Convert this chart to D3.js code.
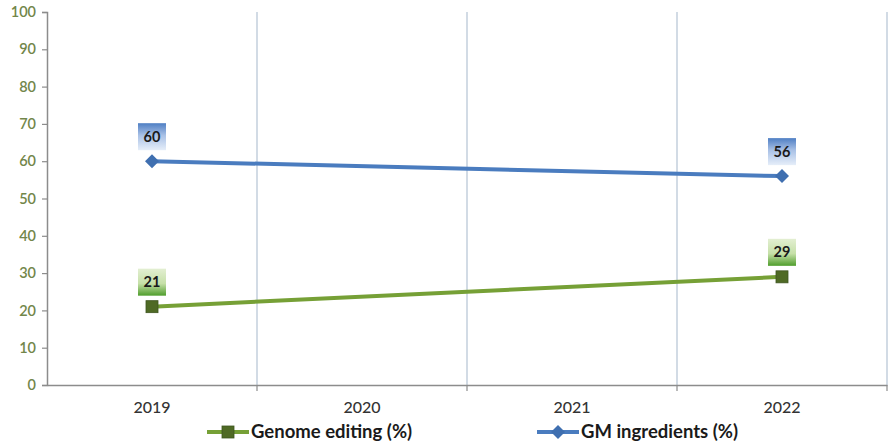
<!DOCTYPE html>
<html>
<head>
<meta charset="utf-8">
<script src="https://cdn.jsdelivr.net/npm/d3@7"></script>
<style>
  html, body { margin: 0; padding: 0; background: #fff; }
  svg { display: block; }
</style>
</head>
<body>
<svg id="chart" width="889" height="447"></svg>
<script>
// Survey years shown on the category axis
const years = ["2019", "2020", "2021", "2022"];
// Years with a recorded value
const pointYears = ["2019", "2022"];
const genomeEditing = [21, 29];
const gmIngredients = [60, 56];
const yTicks = [0, 10, 20, 30, 40, 50, 60, 70, 80, 90, 100];
const seriesNames = ["Genome editing (%)", "GM ingredients (%)"];

const svg = d3.select("#chart");
const font = "Lato, 'Open Sans', sans-serif";

const plotLeft = 47, plotRight = 887, plotTop = 12, plotBottom = 385;

const x = d3.scaleBand().domain(years).range([plotLeft, plotRight]).padding(0);
const y = d3.scaleLinear().domain([0, 100]).range([plotBottom, plotTop]);

const defs = svg.append("defs");
const blueGrad = defs.append("linearGradient").attr("id", "blueBox").attr("x1", 0).attr("y1", 0).attr("x2", 0).attr("y2", 1);
blueGrad.append("stop").attr("offset", "0%").attr("stop-color", "#4f7fc4");
blueGrad.append("stop").attr("offset", "45%").attr("stop-color", "#a9c1e6");
blueGrad.append("stop").attr("offset", "100%").attr("stop-color", "#e6eef9");
const greenGrad = defs.append("linearGradient").attr("id", "greenBox").attr("x1", 0).attr("y1", 0).attr("x2", 0).attr("y2", 1);
greenGrad.append("stop").attr("offset", "0%").attr("stop-color", "#e3efd2");
greenGrad.append("stop").attr("offset", "55%").attr("stop-color", "#c6e0a8");
greenGrad.append("stop").attr("offset", "100%").attr("stop-color", "#4f9d2c");

// Vertical gridlines at category boundaries
const bounds = years.slice(1).map(d => x(d)).concat([plotRight]);
svg.append("g").selectAll("line").data(bounds).join("line")
  .attr("x1", d => d).attr("x2", d => d)
  .attr("y1", plotTop).attr("y2", plotBottom)
  .attr("stroke", "#c3cfdd").attr("stroke-width", 1.5);

// Y axis
const yAxis = d3.axisLeft(y).tickValues(yTicks).tickSize(5).tickPadding(6);
const gy = svg.append("g").attr("transform", `translate(${plotLeft},0)`).call(yAxis);
gy.select(".domain").attr("stroke", "#8c8c8c").attr("stroke-width", 1.5);
gy.selectAll(".tick line").attr("stroke", "#8c8c8c").attr("stroke-width", 1.2);
gy.selectAll(".tick text").attr("fill", "#72864a").attr("font-family", font)
  .attr("font-size", 14.5).attr("font-weight", 600);

// X axis
const xAxis = d3.axisBottom(x).tickSize(0).tickPadding(17);
const gx = svg.append("g").attr("transform", `translate(0,${plotBottom})`).call(xAxis);
gx.select(".domain").attr("stroke", "#8c8c8c").attr("stroke-width", 1.5);
gx.selectAll(".tick text").attr("fill", "#333").attr("font-family", font)
  .attr("font-size", 16).attr("font-weight", 500);
svg.append("g").selectAll("line").data(bounds).join("line")
  .attr("x1", d => d).attr("x2", d => d)
  .attr("y1", plotBottom).attr("y2", plotBottom + 6)
  .attr("stroke", "#8c8c8c").attr("stroke-width", 1.2);

const cx = d => x(d) + x.bandwidth() / 2;
const line = d3.line().x(d => cx(d.year)).y(d => y(d.value));

const series = [
  { name: seriesNames[0], values: genomeEditing, color: "#76a036", marker: "square", fill: "#4f6a25", grad: "url(#greenBox)" },
  { name: seriesNames[1], values: gmIngredients, color: "#4a7cbf", marker: "diamond", fill: "#3f6fb0", grad: "url(#blueBox)" }
];

function drawMarker(g, type, px, py, fill, stroke) {
  if (type === "square") {
    g.append("rect").attr("x", px - 6).attr("y", py - 6).attr("width", 12).attr("height", 12)
      .attr("fill", fill).attr("stroke", stroke).attr("stroke-width", 0.8);
  } else {
    g.append("path").attr("d", `M${px},${py - 7}L${px + 7},${py}L${px},${py + 7}L${px - 7},${py}Z`)
      .attr("fill", fill);
  }
}

series.forEach(s => {
  const pts = pointYears.map((yr, i) => ({ year: yr, value: s.values[i] }));
  const g = svg.append("g");
  g.append("path").datum(pts).attr("d", line)
    .attr("fill", "none").attr("stroke", s.color).attr("stroke-width", 4);
  pts.forEach(p => {
    const px = cx(p.year), py = y(p.value);
    drawMarker(g, s.marker, px, py, s.fill, "#3e5520");
    // value label box
    g.append("rect").attr("x", px - 14).attr("y", py - 38).attr("width", 28).attr("height", 27)
      .attr("fill", s.grad);
    g.append("text").attr("x", px).attr("y", py - 19.5)
      .attr("text-anchor", "middle").attr("font-family", font).attr("font-weight", "bold")
      .attr("font-size", 14.5).attr("fill", "#1a1a1a").text(p.value);
  });
});

// Legend
const legendItems = [
  { s: series[0], x0: 207 },
  { s: series[1], x0: 537 }
];
legendItems.forEach(({ s, x0 }) => {
  const ly = 432;
  const g = svg.append("g");
  g.append("line").attr("x1", x0).attr("x2", x0 + 42).attr("y1", ly).attr("y2", ly)
    .attr("stroke", s.color).attr("stroke-width", 4);
  drawMarker(g, s.marker, x0 + 21, ly, s.fill, "#3e5520");
  g.append("text").attr("x", x0 + 44).attr("y", ly + 6)
    .attr("font-family", font).attr("font-weight", "bold").attr("font-size", 18.5)
    .attr("fill", "#1a1a1a").text(s.name);
});
</script>
</body>
</html>
